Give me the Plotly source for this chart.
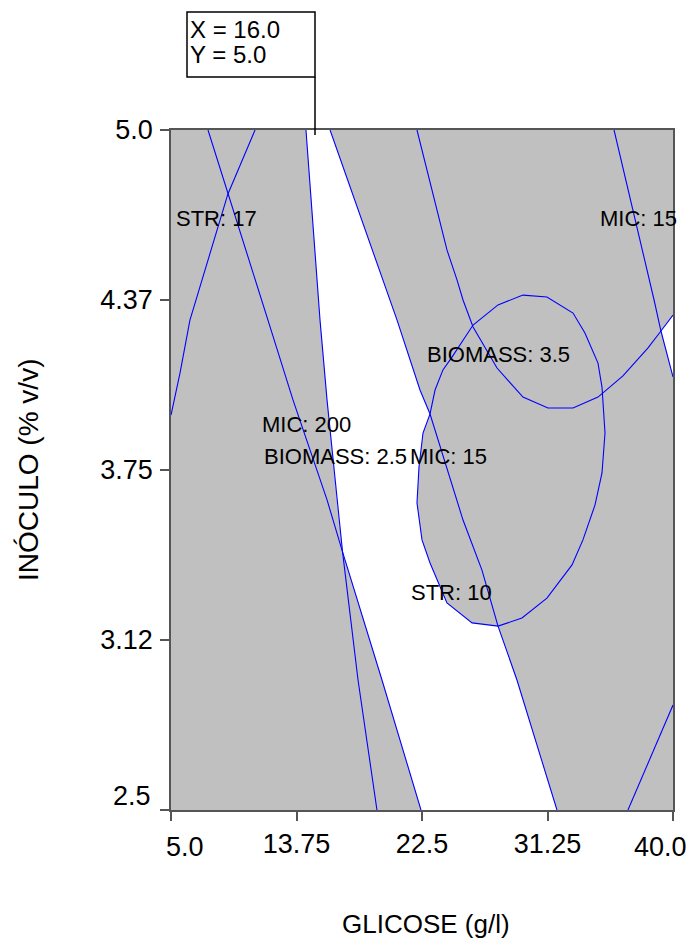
import plotly.graph_objects as go

# ---------------- data (GLICOSE g/l, INOCULO % v/v) ----------------
# MIC: 200 contour
mic200_x = [7.58, 8.97, 11.76, 13.51, 15.88, 16.96, 19.71, 22.43]
mic200_y = [5.00, 4.765, 4.301, 4.007, 3.640, 3.449, 2.978, 2.50]

# BIOMASS: 2.5 contour
bio25_x = [14.41, 15.39, 15.88, 16.57, 16.96, 18.04, 19.36]
bio25_y = [5.00, 4.301, 4.007, 3.640, 3.449, 2.978, 2.50]

# MIC: 15 contour (central branch)
mic15a_x = [16.09, 19.78, 20.76, 22.36, 23.06, 25.36, 26.68, 27.80, 29.12, 31.91]
mic15a_y = [5.00, 4.449, 4.301, 4.044, 3.956, 3.566, 3.382, 3.176, 2.978, 2.50]

# MIC: 15 contour (right branch)
mic15b_x = [35.89, 37.00, 37.84, 38.68, 39.16, 40.00]
mic15b_y = [5.00, 4.754, 4.559, 4.375, 4.261, 4.092]

# STR: 10 contour (closed oval)
str10_x = [29.54, 31.21, 33.03, 33.86, 34.77, 35.05, 35.26, 35.05, 34.56, 33.72,
           32.96, 31.21, 29.47, 27.80, 25.99, 24.24, 23.06, 22.50, 22.15, 22.29,
           22.57, 23.06, 23.41, 23.96, 24.59, 26.06, 27.80, 29.54]
str10_y = [4.393, 4.386, 4.327, 4.254, 4.143, 4.055, 3.886, 3.739, 3.621, 3.493,
           3.401, 3.279, 3.206, 3.176, 3.188, 3.261, 3.408, 3.493, 3.629, 3.761,
           3.886, 3.956, 4.044, 4.118, 4.165, 4.283, 4.357, 4.393]

# BIOMASS: 3.5 contour (U shape)
bio35_x = [22.15, 23.20, 24.24, 24.94, 25.36, 26.06, 27.73, 29.54, 31.28, 33.03,
           34.77, 36.51, 38.26, 39.16, 40.00]
bio35_y = [5.00, 4.779, 4.559, 4.449, 4.375, 4.276, 4.125, 4.018, 3.978, 3.978,
           4.018, 4.096, 4.199, 4.261, 4.320]

# STR: 17 contour (left branch) and lower-right branch
str17_x = [5.00, 5.63, 6.32, 7.72, 8.97, 10.86]
str17_y = [3.952, 4.107, 4.301, 4.548, 4.765, 5.00]
str17b_x = [36.86, 38.26, 40.00]
str17b_y = [2.50, 2.673, 2.886]

# contour labels
label_text = ["STR: 17", "MIC: 15", "BIOMASS: 3.5", "MIC: 200", "BIOMASS: 2.5", "MIC: 15", "STR: 10"]
label_x = [8.14, 37.56, 27.80, 14.48, 16.47, 24.38, 24.56]
label_y = [4.676, 4.676, 4.173, 3.919, 3.798, 3.798, 3.298]

# axis ticks
x_ticks = [5.0, 13.75, 22.5, 31.25, 40.0]
x_ticktext = ["5.0", "13.75", "22.5", "31.25", "40.0"]
y_ticks = [2.5, 3.125, 3.75, 4.375, 5.0]
y_ticktext = ["2.5", "3.12", "3.75", "4.37", "5.0"]

# flag values
flag_x_val = 16.0
flag_y_val = 5.0

# ---------------- build the feasible (white) regions from the contours ----------------
wx = (bio25_x[0:5] + mic200_x[5:8] + mic15a_x[9:6:-1] + str10_x[14:22]
      + mic15a_x[3::-1])
wy = (bio25_y[0:5] + mic200_y[5:8] + mic15a_y[9:6:-1] + str10_y[14:22]
      + mic15a_y[3::-1])

w2x = bio35_x[13:15] + mic15b_x[5:3:-1]
w2y = bio35_y[13:15] + mic15b_y[5:3:-1]

FONT = "Liberation Sans, Arial, sans-serif"
BLUE = "#0000FF"

# plot-area pixel frame (used for paper-coordinate placement of decorations)
PL, PR, PT, PB = 171, 673, 130, 810
def px(x):
    return (x - PL) / (PR - PL)
def py(y):
    return (PB - y) / (PB - PT)

fig = go.Figure()
fig.add_trace(go.Scatter(x=wx, y=wy, fill="toself", fillcolor="white",
                         mode="none", hoverinfo="skip", showlegend=False))
fig.add_trace(go.Scatter(x=w2x, y=w2y, fill="toself", fillcolor="white",
                         mode="none", hoverinfo="skip", showlegend=False))

for xs, ys in [(mic200_x, mic200_y), (bio25_x, bio25_y), (mic15a_x, mic15a_y),
               (mic15b_x, mic15b_y), (str10_x, str10_y), (bio35_x, bio35_y),
               (str17_x, str17_y), (str17b_x, str17b_y)]:
    fig.add_trace(go.Scatter(x=xs, y=ys, mode="lines",
                             line=dict(color=BLUE, width=1.1),
                             hoverinfo="skip", showlegend=False))

annotations = []
for t, x, y in zip(label_text, label_x, label_y):
    annotations.append(dict(x=x, y=y, xref="x", yref="y", text=t, showarrow=False,
                            xanchor="center", yanchor="middle",
                            font=dict(family=FONT, size=22, color="black")))

# end tick labels (drawn shifted inward, as in the reference)
TICKFONT = dict(family=FONT, size=27, color="black")
annotations.append(dict(x=x_ticks[0], y=py(847), xref="x", yref="paper",
                        text=x_ticktext[0], showarrow=False, xanchor="left",
                        yanchor="middle", xshift=-7, font=TICKFONT))
annotations.append(dict(x=x_ticks[-1], y=py(847), xref="x", yref="paper",
                        text=x_ticktext[-1], showarrow=False, xanchor="right",
                        yanchor="middle", xshift=16, font=TICKFONT))
annotations.append(dict(x=px(153), y=y_ticks[0], xref="paper", yref="y",
                        text=y_ticktext[0], showarrow=False, xanchor="right",
                        yanchor="middle", yshift=14, font=TICKFONT))

# flag text
annotations.append(dict(x=px(188), y=py(29), xref="paper", yref="paper",
                        text=f"X = {flag_x_val:.1f}", showarrow=False, xanchor="left",
                        yanchor="middle", font=dict(family=FONT, size=24, color="black")))
annotations.append(dict(x=px(188), y=py(55), xref="paper", yref="paper",
                        text=f"Y = {flag_y_val:.1f}", showarrow=False, xanchor="left",
                        yanchor="middle", font=dict(family=FONT, size=24, color="black")))

# axis titles
annotations.append(dict(x=px(426), y=py(924), xref="paper", yref="paper",
                        text="GLICOSE (g/l)", showarrow=False, xanchor="center",
                        yanchor="middle", font=dict(family=FONT, size=26, color="black")))
annotations.append(dict(x=px(28), y=0.5, xref="paper", yref="paper",
                        text="INÓCULO (% v/v)", showarrow=False, xanchor="center",
                        yanchor="middle", textangle=-90,
                        font=dict(family=FONT, size=28, color="black")))

shapes = [
    dict(type="rect", xref="paper", yref="paper",
         x0=px(187), x1=px(315), y0=py(77), y1=py(12),
         line=dict(color="black", width=1.5), fillcolor="white"),
    dict(type="line", xref="paper", yref="paper",
         x0=px(315), x1=px(315), y0=py(77), y1=py(135),
         line=dict(color="black", width=1.5)),
]

axis_common = dict(showgrid=False, zeroline=False, showline=True, linecolor="#555555",
                   linewidth=1.5, mirror=True, ticks="outside", ticklen=9,
                   tickcolor="#555555", tickwidth=1.5, tickfont=TICKFONT)

fig.update_layout(
    width=687, height=940, autosize=False,
    margin=dict(l=PL, r=687 - PR, t=PT, b=940 - PB),
    paper_bgcolor="white", plot_bgcolor="#C0C0C0",
    xaxis=dict(range=[5, 40], tickvals=x_ticks,
               ticktext=[""] + x_ticktext[1:-1] + [""], **axis_common),
    yaxis=dict(range=[2.5, 5], tickvals=y_ticks,
               ticktext=[""] + y_ticktext[1:], ticklabelstandoff=2, **axis_common),
    annotations=annotations, shapes=shapes, showlegend=False,
)

fig.write_html("out.html")
